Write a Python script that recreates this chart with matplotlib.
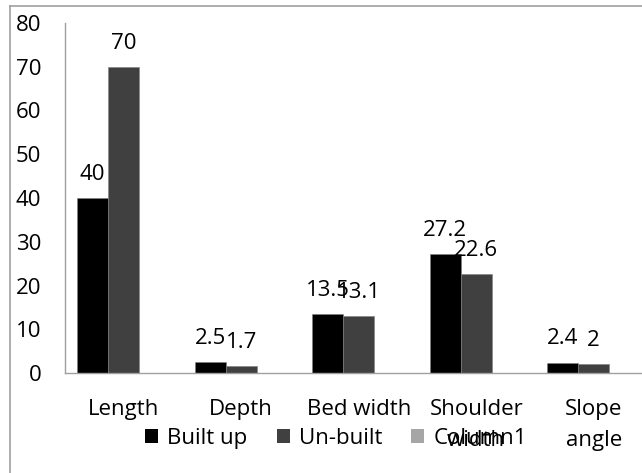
import matplotlib
matplotlib.use("Agg")
import matplotlib.pyplot as plt
from matplotlib.lines import Line2D
from matplotlib.patches import Patch
import numpy as np

categories = ["Length", "Depth", "Bed width", "Shoulder\nwidth", "Slope\nangle"]
built_up = [40, 2.5, 13.5, 27.2, 2.4]
un_built = [70, 1.7, 13.1, 22.6, 2]
column1 = [0, 0, 0, 0, 0]
series_names = ["Built up", "Un-built", "Column1"]
colors = ["#000000", "#404040", "#a6a6a6"]
yticks = [0, 10, 20, 30, 40, 50, 60, 70, 80]

plt.rcParams['font.family'] = ['Open Sans', 'DejaVu Sans']
FS = 16

W, H = 642, 473
fig = plt.figure(figsize=(W / 100, H / 100), dpi=100)
ax = fig.add_axes([65 / W, (H - 373) / H, 587.5 / W, 350 / H])

x = np.arange(len(categories))
w = 0.264
all_series = [built_up, un_built, column1]
for i, (vals, name, c) in enumerate(zip(all_series, series_names, colors)):
    ax.bar(x + (i - 1) * w, vals, width=w, color=c, label=name,
           edgecolor="#808080", linewidth=0.4)
    if i < 2:
        for xi, v in zip(x + (i - 1) * w, vals):
            ax.annotate(f"{v:g}", (xi, v), xytext=(0, 13), textcoords="offset points",
                        ha="center", va="baseline", fontsize=FS, color="black")

ax.set_xlim(-0.5, len(categories) - 0.5)
ax.set_ylim(0, 80)
ax.set_yticks(yticks)
ax.set_yticklabels([str(t) for t in yticks])
ax.set_xticks(x)
ax.set_xticklabels(categories, linespacing=1.6)
ax.tick_params(axis="y", length=0, pad=17, labelsize=FS)
ax.tick_params(axis="x", length=0, pad=19, labelsize=FS)
for s in ["top", "right"]:
    ax.spines[s].set_visible(False)
for s in ["left", "bottom"]:
    ax.spines[s].set_color("#a0a0a0")
    ax.spines[s].set_linewidth(1.0)

handles = [Patch(facecolor=c, edgecolor="none") for c in colors]
fig.legend(handles, series_names, loc="center", bbox_to_anchor=(336 / W, 1 - 438 / H),
           ncol=3, frameon=False, fontsize=FS, handlelength=0.6, handleheight=0.6,
           handletextpad=0.4, columnspacing=1.3, borderpad=0)

# outer frame
fig.add_artist(Line2D([10 / W, 1.0], [1 - 6 / H, 1 - 6 / H], transform=fig.transFigure,
                      color="#a0a0a0", linewidth=1.2))
fig.add_artist(Line2D([10 / W, 10 / W], [0, 1 - 6 / H], transform=fig.transFigure,
                      color="#a0a0a0", linewidth=1.2))

fig.savefig("out.png", dpi=100)
